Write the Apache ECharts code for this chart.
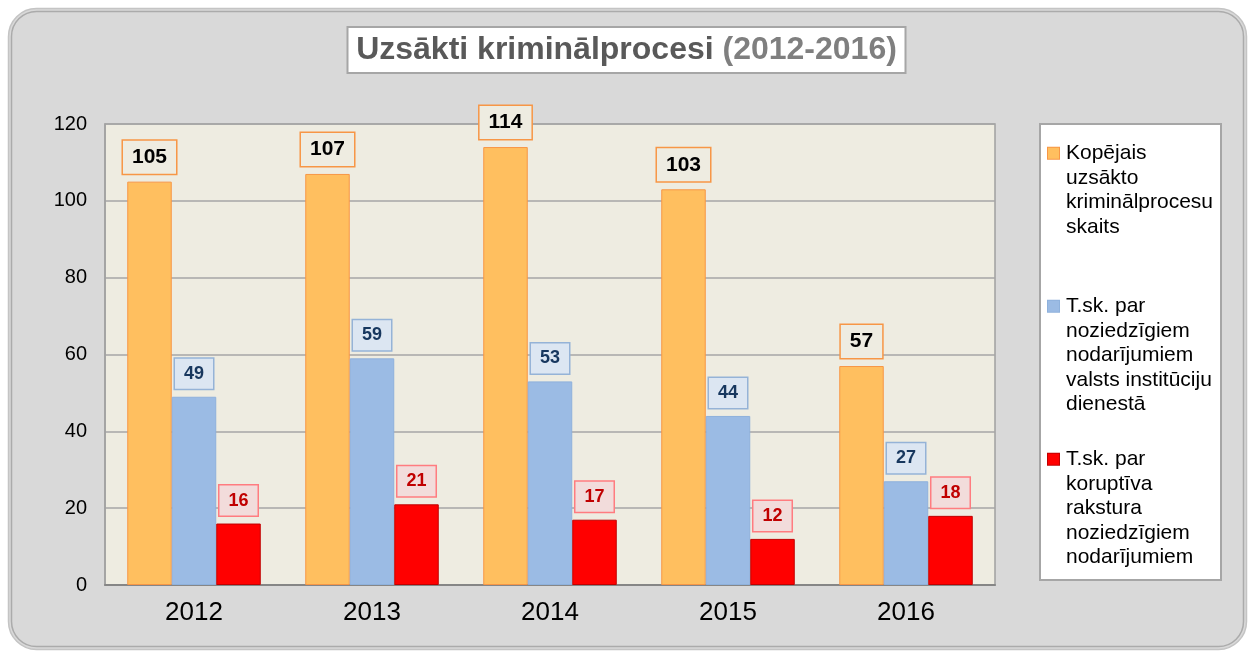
<!DOCTYPE html>
<html>
<head>
<meta charset="utf-8">
<script src="https://cdn.jsdelivr.net/npm/echarts@6/dist/echarts.min.js"></script>
<style>
html,body{margin:0;padding:0;background:#ffffff;}
#chart{width:1253px;height:651px;}
</style>
</head>
<body>
<div id="chart"></div>
<script>
const years = ['2012', '2013', '2014', '2015', '2016'];
const totalCases = [105, 107, 114, 103, 57];
const stateServiceCases = [49, 59, 53, 44, 27];
const corruptionCases = [16, 21, 17, 12, 18];
const seriesNames = [
  'Kopējais uzsākto kriminālprocesu skaits',
  'T.sk. par noziedzīgiem nodarījumiem valsts institūciju dienestā',
  'T.sk. par koruptīva rakstura noziedzīgiem nodarījumiem'
];
const legendLines = [
  ['Kopējais', 'uzsākto', 'kriminālprocesu', 'skaits'],
  ['T.sk. par', 'noziedzīgiem', 'nodarījumiem', 'valsts institūciju', 'dienestā'],
  ['T.sk. par', 'koruptīva', 'rakstura', 'noziedzīgiem', 'nodarījumiem']
];
const yTicks = [0, 20, 40, 60, 80, 100, 120];

const FONT = '"Liberation Sans", Arial, sans-serif';
const colors = ['#ffbf5f', '#9bbbe4', '#ff0000'];
const borders = ['#f79646', '#8eb1dc', '#c00000'];
const labelStyles = [
  {bg: '#eeece1', border: '#f79646', color: '#000000', size: 21, pad: [6, 9]},
  {bg: '#dce6f2', border: '#95b3d7', color: '#17375e', size: 18, pad: [6, 9]},
  {bg: '#f2dcdb', border: '#ff7c80', color: '#c00000', size: 18, pad: [6, 9]}
];
const values = [totalCases, stateServiceCases, corruptionCases];

const chart = echarts.init(document.getElementById('chart'), null, {renderer: 'canvas'});

function makeLegend(i, top) {
  const rich = {
    sq: {width: 11, height: 11, backgroundColor: colors[i], borderColor: borders[i], borderWidth: 1},
    gap: {width: 7},
    ind: {width: 18},
    t: {fontSize: 21, fontFamily: FONT, color: '#000000', lineHeight: 24.5}
  };
  return {
    show: true,
    orient: 'vertical',
    left: 1043,
    top: top,
    padding: 0,
    itemWidth: 0,
    itemHeight: 0,
    itemStyle: {color: 'transparent', borderWidth: 0},
    selectedMode: false,
    data: [seriesNames[i]],
    formatter: function () {
      return legendLines[i].map(function (line, k) {
        return (k === 0 ? '{sq| }{gap|}' : '{ind|}') + '{t|' + line + '}';
      }).join('\n');
    },
    textStyle: {fontSize: 21, fontFamily: FONT, lineHeight: 24.5, rich: rich}
  };
}

const series = values.map(function (arr, i) {
  const ls = labelStyles[i];
  return {
    name: seriesNames[i],
    type: 'bar',
    data: arr,
    barGap: '0%',
    barCategoryGap: '25%',
    itemStyle: {color: colors[i], borderColor: borders[i], borderWidth: 1},
    label: {
      show: true,
      position: 'top',
      distance: 8,
      fontFamily: FONT,
      fontWeight: 'bold',
      fontSize: ls.size,
      lineHeight: ls.size,
      color: ls.color,
      backgroundColor: ls.bg,
      borderColor: ls.border,
      borderWidth: 1.5,
      padding: ls.pad
    },
    emphasis: {disabled: true}
  };
});

const option = {
  animation: false,
  backgroundColor: '#ffffff',
  textStyle: {fontFamily: FONT},
  title: {
    text: '{a|Uzsākti kriminālprocesi} {b|(2012-2016)}',
    left: 'center',
    top: 27,
    backgroundColor: '#ffffff',
    borderColor: '#a6a6a6',
    borderWidth: 2,
    padding: [6, 9, 6, 9],
    textStyle: {
      fontFamily: FONT,
      fontSize: 32,
      fontWeight: 'bold',
      lineHeight: 34,
      rich: {
        a: {fontFamily: FONT, fontSize: 32, fontWeight: 'bold', color: '#595959', lineHeight: 34},
        b: {fontFamily: FONT, fontSize: 32, fontWeight: 'bold', color: '#7f7f7f', lineHeight: 34}
      }
    }
  },
  graphic: [
    {type: 'rect', z: -10, silent: true, shape: {x: 8.5, y: 8.5, width: 1238, height: 641, r: 28},
     style: {fill: '#d9d9d9', stroke: '#c4c4c4', lineWidth: 1.5}},
    {type: 'rect', z: -9, silent: true, shape: {x: 11.5, y: 11.5, width: 1232, height: 635, r: 25},
     style: {fill: 'transparent', stroke: '#ababab', lineWidth: 1.5}},
    {type: 'rect', z: -8, silent: true, shape: {x: 1040, y: 124, width: 181, height: 456},
     style: {fill: '#ffffff', stroke: '#a6a6a6', lineWidth: 2}}
  ],
  legend: [makeLegend(0, 141), makeLegend(1, 294), makeLegend(2, 447)],
  grid: {
    left: 105, right: 258, top: 124, bottom: 66,
    show: true,
    backgroundColor: '#eeece1',
    borderColor: '#a0a0a0',
    borderWidth: 1.5,
    containLabel: false
  },
  xAxis: {
    type: 'category',
    data: years,
    axisLine: {lineStyle: {color: '#868686', width: 2}},
    axisTick: {show: false},
    axisLabel: {fontSize: 26, fontFamily: FONT, color: '#000000', margin: 15}
  },
  yAxis: {
    type: 'value',
    min: yTicks[0],
    max: yTicks[yTicks.length - 1],
    interval: yTicks[1] - yTicks[0],
    axisLine: {show: true, lineStyle: {color: '#a0a0a0', width: 1.5}},
    axisTick: {show: false},
    axisLabel: {fontSize: 20, fontFamily: FONT, color: '#000000', margin: 18},
    splitLine: {lineStyle: {color: '#a6a6a6', width: 1.5}}
  },
  series: series
};
chart.setOption(option);
</script>
</body>
</html>
